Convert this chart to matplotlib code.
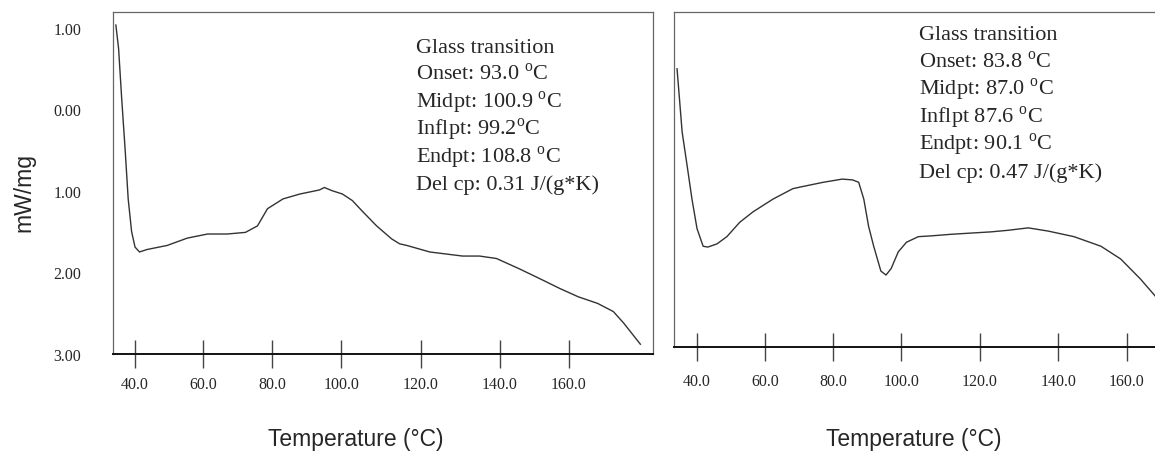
import numpy as np
import matplotlib
matplotlib.use("Agg")
import matplotlib.pyplot as plt

plt.rcParams['mathtext.fontset'] = 'custom'
plt.rcParams['mathtext.rm'] = 'Liberation Serif'

# DSC heat flow traces, temperature in degC, heat flow in mW/mg
temp_a = [34.4, 35.2, 36.1, 37.1, 38.0, 39.0, 40.0, 41.3, 43.5, 49.4, 55.3,
          61.2, 66.9, 72.2, 75.7, 78.6, 83.1, 88.0, 93.7, 95.1, 97.4, 100.3,
          102.8, 105.3, 108.9, 112.7, 114.7, 116.5, 122.3, 130.6, 134.9,
          139.2, 145.9, 151.8, 157.6, 162.9, 168.5, 173.1, 176.1, 181.0]
flow_a = [1.03, 0.74, 0.13, -0.49, -1.10, -1.50, -1.69, -1.75, -1.72, -1.67,
          -1.58, -1.53, -1.53, -1.51, -1.43, -1.22, -1.10, -1.04, -0.99,
          -0.96, -1.00, -1.04, -1.12, -1.25, -1.43, -1.59, -1.65, -1.67,
          -1.75, -1.80, -1.80, -1.83, -1.96, -2.08, -2.20, -2.30, -2.38,
          -2.48, -2.62, -2.88]

temp_b = [34.1, 35.6, 37.1, 38.5, 40.0, 41.8, 43.2, 45.9, 48.8, 52.6, 56.5,
          62.4, 68.2, 70.3, 77.1, 82.7, 85.7, 87.5, 89.0, 90.4, 91.9, 94.0,
          95.5, 97.0, 99.1, 101.3, 104.3, 107.6, 112.7, 122.8, 127.2, 132.3,
          137.4, 144.6, 152.5, 158.3, 164.1, 168.4, 170.0]
flow_b = [0.48, -0.31, -0.74, -1.15, -1.52, -1.74, -1.75, -1.71, -1.62,
          -1.44, -1.31, -1.15, -1.02, -1.00, -0.94, -0.90, -0.91, -0.94,
          -1.15, -1.49, -1.74, -2.05, -2.10, -2.02, -1.81, -1.69, -1.62,
          -1.61, -1.59, -1.56, -1.54, -1.51, -1.55, -1.62, -1.74, -1.90,
          -2.15, -2.36, -2.46]

notes_a = ["Glass transition",
           r"Onset: 93.0 $^{\mathrm{o}}$C",
           r"Midpt: 100.9 $^{\mathrm{o}}$C",
           r"Inflpt: 99.2$^{\mathrm{o}}$C",
           r"Endpt: 108.8 $^{\mathrm{o}}$C",
           "Del cp: 0.31 J/(g*K)"]
notes_b = ["Glass transition",
           r"Onset: 83.8 $^{\mathrm{o}}$C",
           r"Midpt: 87.0 $^{\mathrm{o}}$C",
           r"Inflpt 87.6 $^{\mathrm{o}}$C",
           r"Endpt: 90.1 $^{\mathrm{o}}$C",
           "Del cp: 0.47 J/(g*K)"]

x_ticks = [40, 60, 80, 100, 120, 140, 160]
x_ticklabels = ["40.0", "60.0", "80.0", "100.0", "120.0", "140.0", "160.0"]
y_ticks = [1, 0, -1, -2, -3]
y_ticklabels = ["1.00", "0.00", "1.00", "2.00", "3.00"]

# the instrument's temperature axis is not evenly spaced between grid lines
grid_step = [68, 68.5, 68.5, 79, 78.5, 68.5]
grid_u = np.concatenate([[0], np.cumsum(grid_step)])
edge_slope = 3.4


def warp(t):
    t = np.asarray(t, float)
    return (np.interp(t, x_ticks, grid_u)
            + edge_slope * np.minimum(t - x_ticks[0], 0)
            + edge_slope * np.maximum(t - x_ticks[-1], 0))


def unwarp(u):
    u = np.asarray(u, float)
    return (np.interp(u, grid_u, x_ticks)
            + np.minimum(u - grid_u[0], 0) / edge_slope
            + np.maximum(u - grid_u[-1], 0) / edge_slope)


serif = 'Liberation Serif'
sans = 'Liberation Sans'
ink = '#262626'
W, H = 1155, 452

fig = plt.figure(figsize=(W / 100, H / 100), dpi=100)
ax1 = fig.add_axes([113 / W, 97 / H, 540 / W, 342 / H])
ax2 = fig.add_axes([674 / W, 104 / H, 540 / W, 335 / H])

for ax, t, f, pad in ((ax1, temp_a, flow_a, 5.5), (ax2, temp_b, flow_b, 9.0)):
    ax.set_xscale('function', functions=(warp, unwarp))
    ax.plot(t, f, color='#333333', lw=1.0)
    ax.set_ylim(-3.0, 1.19)
    ax.set_xticks(x_ticks)
    ax.set_xticklabels(x_ticklabels, fontfamily=serif, fontsize=11.5, color=ink)
    ax.tick_params(axis='x', direction='inout', length=20, width=1.0,
                   color='#444444', pad=pad)
    for side in ('top', 'left', 'right'):
        ax.spines[side].set_color('#666666')
        ax.spines[side].set_linewidth(0.9)
    ax.spines['bottom'].set_color('#111111')
    ax.spines['bottom'].set_linewidth(1.4)

ax1.set_xlim(33.56, 184.7)
ax2.set_xlim(33.2, 185.8)

ax1.set_yticks(y_ticks)
ax1.set_yticklabels(y_ticklabels, fontfamily=serif, fontsize=11.5, color=ink)
ax1.tick_params(axis='y', length=0, pad=23)
ax2.set_yticks([])

# one text per line keeps the row spacing even despite the superscripts
for notes, x0, base, step in ((notes_a, 416, 53, 27.4),
                              (notes_b, 919, 40, 27.6)):
    for i, line in enumerate(notes):
        fig.text(x0 / W, 1 - (base + i * step) / H, line, ha='left',
                 va='baseline', fontfamily=serif, fontsize=16, color=ink)

fig.text(24 / W, 1 - 193 / H, "mW/mg", rotation=90, ha='center',
         va='center', fontfamily=sans, fontsize=16.5, color=ink)
fig.text(356 / W, 1 - 440 / H, "Temperature (\u00b0C)", ha='center',
         va='center', fontfamily=sans, fontsize=16.5, color=ink)
fig.text(914 / W, 1 - 440 / H, "Temperature (\u00b0C)", ha='center',
         va='center', fontfamily=sans, fontsize=16.5, color=ink)

fig.savefig("out.png", dpi=100)
